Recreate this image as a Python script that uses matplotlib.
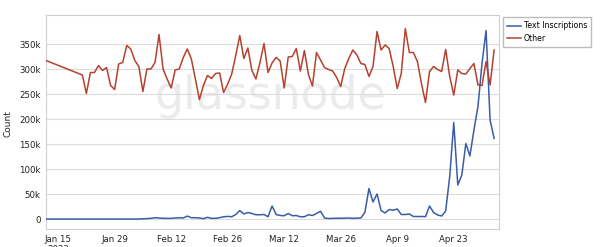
import numpy as np
import pandas as pd
import matplotlib
matplotlib.use("Agg")
import matplotlib.pyplot as plt
import matplotlib.dates as mdates

BLUE = "#3b5ca6"
RED = "#b5412e"
GRID = "#dcdcdc"

# dates: one point on Jan 12, then daily from Jan 21 to May 3
dates = [pd.Timestamp("2023-01-12")] + list(pd.date_range("2023-01-21", "2023-05-03"))

# values in thousands
other = [317,
         288, 251, 293, 293, 307, 297, 303, 267, 259, 310,
         313, 347, 340, 317, 305, 255, 300, 300, 313, 369,
         300, 280, 262, 298, 300, 323, 340, 320, 280, 239,
         267, 287, 281, 291, 292, 253, 270, 290, 327, 367,
         321, 342, 297, 280, 313, 351, 293, 312, 323, 316,
         262, 324, 325, 341, 296, 337, 289, 266, 333, 318,
         303, 299, 296, 283, 265, 301, 321, 338, 328, 311,
         309, 285, 305, 375, 338, 348, 341, 305, 261, 291,
         381, 333, 333, 315, 271, 233, 295, 305, 299, 295,
         339, 285, 248, 298, 291, 290, 301, 311, 268, 267,
         315, 268, 338]

text_inscriptions = [0,
                     0, 0, 0, 0, 0, 0, 0, 0, 0, 0,
                     0, 0, 0, 0, 0, 0.5, 0.7, 1.3, 2.6, 2.0,
                     1.3, 1.3, 1.3, 2.0, 2.6, 2.0, 5.8, 2.6, 2.6, 2.0,
                     0.7, 3.3, 1.3, 1.3, 2.6, 4.5, 5.2, 4.5, 9.0, 17.0,
                     10, 13, 11, 8.5, 8.5, 9, 4.5, 26, 9, 7,
                     6.5, 11, 6.5, 7, 4.5, 4.5, 8.5, 7, 11, 15.6,
                     2, 1, 1.2, 1.5, 1.5, 1.8, 2, 1.3, 1.8, 2,
                     13.6, 61, 34, 50, 17, 12, 19, 17.5, 20, 9,
                     9, 10, 5, 5, 5, 4.7, 26, 13, 8, 6,
                     16, 85, 193, 68, 88, 151, 126, 178, 225, 311,
                     377, 198, 161]

tick_dates = pd.date_range("2023-01-15", "2023-04-23", freq="14D")
tick_labels = ["Jan 15\n2023", "Jan 29", "Feb 12", "Feb 26", "Mar 12", "Mar 26", "Apr 9", "Apr 23"]
y_ticks = [0, 50, 100, 150, 200, 250, 300, 350]
y_labels = ["0", "50k", "100k", "150k", "200k", "250k", "300k", "350k"]

fig = plt.figure(figsize=(6.0, 2.47), dpi=100, facecolor="white")
ax = fig.add_axes([46 / 600, 18 / 247, 453 / 600, 214 / 247])

ax.text(0.495, 0.62, "glassnode", transform=ax.transAxes, ha="center", va="center",
        fontsize=33, color="#ebebeb", zorder=0)

ax.plot(dates, text_inscriptions, color=BLUE, lw=1.1, label="Text Inscriptions", zorder=3)
ax.plot(dates, other, color=RED, lw=1.1, label="Other", zorder=3)

ax.set_xlim(pd.Timestamp("2023-01-12"), pd.Timestamp("2023-05-04 05:00"))
ax.set_ylim(-20, 408)
ax.set_yticks(y_ticks)
ax.set_yticklabels(y_labels)
ax.set_xticks(tick_dates)
ax.set_xticklabels(tick_labels)
ax.tick_params(axis="both", length=0, labelsize=6.2, colors="#222222", pad=4)
ax.grid(axis="y", color=GRID, lw=0.8)
ax.set_axisbelow(True)
for s in ax.spines.values():
    s.set_color("#cfcfcf")
    s.set_linewidth(0.8)

fig.text(0.014, 0.5, "Count", rotation=90, ha="center", va="center", fontsize=6.5, color="#222222")

fig.legend(loc="upper left", bbox_to_anchor=(503 / 600, 1 - 17 / 247), fontsize=5.6,
           fancybox=False, edgecolor="#bdbdbd", framealpha=1, handlelength=1.7,
           borderpad=0.55, labelspacing=0.45, handletextpad=0.4, borderaxespad=0)

fig.savefig("out.png", dpi=100)
